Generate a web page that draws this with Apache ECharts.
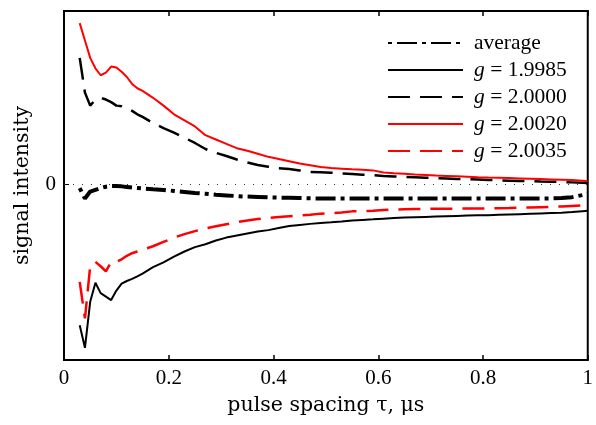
<!DOCTYPE html>
<html>
<head>
<meta charset="utf-8">
<script src="https://cdn.jsdelivr.net/npm/echarts@6/dist/echarts.min.js"></script>
<style>
html, body { margin: 0; padding: 0; background: #fff; }
#chart-container { width: 596px; height: 425px; }
</style>
</head>
<body>
<div id="chart-container"></div>
<script>
let dom = document.getElementById('chart-container');
let myChart = echarts.init(dom, null, { renderer: 'canvas' });

// pulse spacing tau, us
const tau = [0.03, 0.04, 0.05, 0.06, 0.07, 0.08, 0.09, 0.10, 0.11, 0.12, 0.13, 0.14, 0.15,
	0.17, 0.19, 0.21, 0.23, 0.25, 0.27, 0.29, 0.31, 0.33, 0.35, 0.37, 0.39, 0.41, 0.43, 0.45,
	0.47, 0.49, 0.51, 0.53, 0.55, 0.57, 0.59, 0.61, 0.63, 0.65, 0.67, 0.69, 0.71, 0.73, 0.75,
	0.77, 0.79, 0.81, 0.83, 0.85, 0.87, 0.89, 0.91, 0.93, 0.95, 0.97, 0.99, 1.00];

const average = [-0.02, -0.08, -0.04, -0.03, -0.02, -0.012, -0.008, -0.008, -0.01, -0.013, -0.016, -0.019, -0.022,
	-0.027, -0.031, -0.036, -0.042, -0.048, -0.053, -0.058, -0.062, -0.066, -0.069, -0.071, -0.073, -0.075, -0.076, -0.077,
	-0.079, -0.08, -0.08, -0.08, -0.08, -0.08, -0.08, -0.08, -0.08, -0.08, -0.08, -0.08, -0.08, -0.08, -0.08,
	-0.08, -0.08, -0.08, -0.08, -0.08, -0.08, -0.08, -0.08, -0.079, -0.077, -0.072, -0.06, -0.052];

const g19985 = [-0.81, -0.94, -0.675, -0.565, -0.625, -0.645, -0.665, -0.61, -0.57, -0.555, -0.543, -0.528, -0.512,
	-0.475, -0.448, -0.415, -0.385, -0.36, -0.343, -0.322, -0.305, -0.293, -0.281, -0.27, -0.262, -0.25, -0.238, -0.232,
	-0.226, -0.221, -0.217, -0.212, -0.206, -0.203, -0.2, -0.196, -0.192, -0.19, -0.188, -0.186, -0.184, -0.182, -0.18,
	-0.178, -0.177, -0.176, -0.174, -0.172, -0.17, -0.168, -0.166, -0.164, -0.162, -0.158, -0.153, -0.151];

const g20000 = [0.73, 0.53, 0.455, 0.49, 0.5, 0.49, 0.475, 0.455, 0.452, 0.44, 0.425, 0.405, 0.39,
	0.355, 0.325, 0.3, 0.27, 0.24, 0.205, 0.183, 0.165, 0.145, 0.128, 0.113, 0.103, 0.095, 0.09, 0.082,
	0.073, 0.071, 0.069, 0.065, 0.061, 0.057, 0.054, 0.05, 0.047, 0.044, 0.042, 0.04, 0.037, 0.035, 0.033,
	0.031, 0.029, 0.027, 0.025, 0.023, 0.021, 0.02, 0.018, 0.017, 0.015, 0.013, 0.011, 0.01];

const g20020 = [0.93, 0.83, 0.73, 0.67, 0.63, 0.645, 0.68, 0.675, 0.65, 0.62, 0.58, 0.555, 0.54,
	0.5, 0.455, 0.405, 0.37, 0.335, 0.285, 0.26, 0.235, 0.21, 0.195, 0.178, 0.16, 0.148, 0.135, 0.122,
	0.112, 0.102, 0.096, 0.092, 0.088, 0.085, 0.082, 0.07, 0.066, 0.063, 0.058, 0.055, 0.052, 0.05, 0.048,
	0.046, 0.043, 0.041, 0.04, 0.038, 0.036, 0.034, 0.032, 0.03, 0.028, 0.026, 0.023, 0.02];

const g20035 = [-0.56, -0.77, -0.47, -0.445, -0.47, -0.5, -0.445, -0.445, -0.43, -0.41, -0.395, -0.385, -0.375,
	-0.355, -0.33, -0.305, -0.285, -0.268, -0.252, -0.24, -0.228, -0.216, -0.206, -0.198, -0.192, -0.187, -0.182, -0.178,
	-0.173, -0.167, -0.164, -0.16, -0.154, -0.152, -0.15, -0.146, -0.143, -0.142, -0.141, -0.14, -0.139, -0.139, -0.138,
	-0.138, -0.137, -0.137, -0.136, -0.135, -0.133, -0.132, -0.13, -0.128, -0.126, -0.123, -0.12, -0.118];

const xTicks = [0, 0.2, 0.4, 0.6, 0.8, 1];

const font = 'Liberation Serif';
const nameFont = 'DejaVu Serif';

function pairs(vals) {
	return tau.map(function (t, i) {
		return [t, vals[i]];
	});
}

function gLabel(name) {
	if (name === 'average') return name;
	return '{i|g} ' + name.slice(2);
}

let option = {
	animation: false,
	grid: {
		left: 64,
		right: 4,
		top: 11,
		bottom: 65,
		show: true,
		borderColor: '#000',
		borderWidth: 2,
	},
	legend: {
		orient: 'vertical',
		left: 387,
		top: 32,
		padding: 0,
		itemWidth: 75,
		itemHeight: 14,
		itemGap: 5,
		itemStyle: { opacity: 0 },
		data: ['average', 'g = 1.9985', 'g = 2.0000', 'g = 2.0020', 'g = 2.0035'],
		formatter: gLabel,
		textStyle: {
			fontFamily: font,
			fontSize: 21.5,
			color: '#000',
			lineHeight: 20,
			padding: [0, 0, 0, 6],
			rich: {
				i: { fontFamily: font, fontSize: 21.5, fontStyle: 'italic', lineHeight: 20 },
			},
		},
	},
	xAxis: [
		{
			type: 'value',
			min: 0,
			max: 1,
			interval: 0.2,
			name: 'pulse spacing τ, μs',
			nameLocation: 'middle',
			nameGap: 35,
			nameTextStyle: { fontFamily: nameFont, fontSize: 20.5, color: '#000' },
			axisLine: { onZero: false, lineStyle: { color: '#000', width: 2 } },
			axisTick: { inside: true, length: 5, lineStyle: { color: '#000', width: 1.5 }, customValues: xTicks },
			axisLabel: {
				fontFamily: font,
				fontSize: 21,
				color: '#000',
				margin: 8,
				customValues: xTicks,
				formatter: function (v) { return String(v); },
			},
			splitLine: { show: false },
		},
		{
			type: 'value',
			position: 'top',
			min: 0,
			max: 1,
			interval: 0.2,
			axisLine: { onZero: false, lineStyle: { color: '#000', width: 2 } },
			axisTick: { inside: true, length: 5, lineStyle: { color: '#000', width: 1.5 } },
			axisLabel: { show: false },
			splitLine: { show: false },
		},
	],
	yAxis: {
		type: 'value',
		min: -1.01,
		max: 1,
		name: 'signal intensity',
		nameLocation: 'middle',
		nameGap: 31,
		nameTextStyle: { fontFamily: nameFont, fontSize: 20.5, color: '#000' },
		axisLine: { onZero: false, lineStyle: { color: '#000', width: 2 } },
		axisTick: { inside: true, length: 5, customValues: [0], lineStyle: { color: '#000' } },
		axisLabel: { fontFamily: font, fontSize: 21, color: '#000', margin: 8, customValues: [0] },
		splitLine: { show: false },
	},
	series: [
		{
			name: 'average',
			type: 'line',
			symbol: 'none',
			data: pairs(average),
			lineStyle: { color: '#000', width: 4, type: [4, 5, 20, 5] },
			itemStyle: { color: '#000' },
			markLine: {
				silent: true,
				symbol: 'none',
				label: { show: false },
				lineStyle: { color: '#333', width: 1, type: [1, 8] },
				data: [{ yAxis: 0 }],
			},
			z: 3,
		},
		{
			name: 'g = 1.9985',
			type: 'line',
			symbol: 'none',
			data: pairs(g19985),
			lineStyle: { color: '#000', width: 2 },
			itemStyle: { color: '#000' },
		},
		{
			name: 'g = 2.0000',
			type: 'line',
			symbol: 'none',
			data: pairs(g20000),
			lineStyle: { color: '#000', width: 2.5, type: [22, 10] },
			itemStyle: { color: '#000' },
		},
		{
			name: 'g = 2.0020',
			type: 'line',
			symbol: 'none',
			data: pairs(g20020),
			lineStyle: { color: '#ff0000', width: 2 },
			itemStyle: { color: '#ff0000' },
		},
		{
			name: 'g = 2.0035',
			type: 'line',
			symbol: 'none',
			data: pairs(g20035),
			lineStyle: { color: '#ff0000', width: 2.5, type: [22, 10] },
			itemStyle: { color: '#ff0000' },
		},
	],
};

myChart.setOption(option);
window.addEventListener('resize', myChart.resize);
</script>
</body>
</html>
